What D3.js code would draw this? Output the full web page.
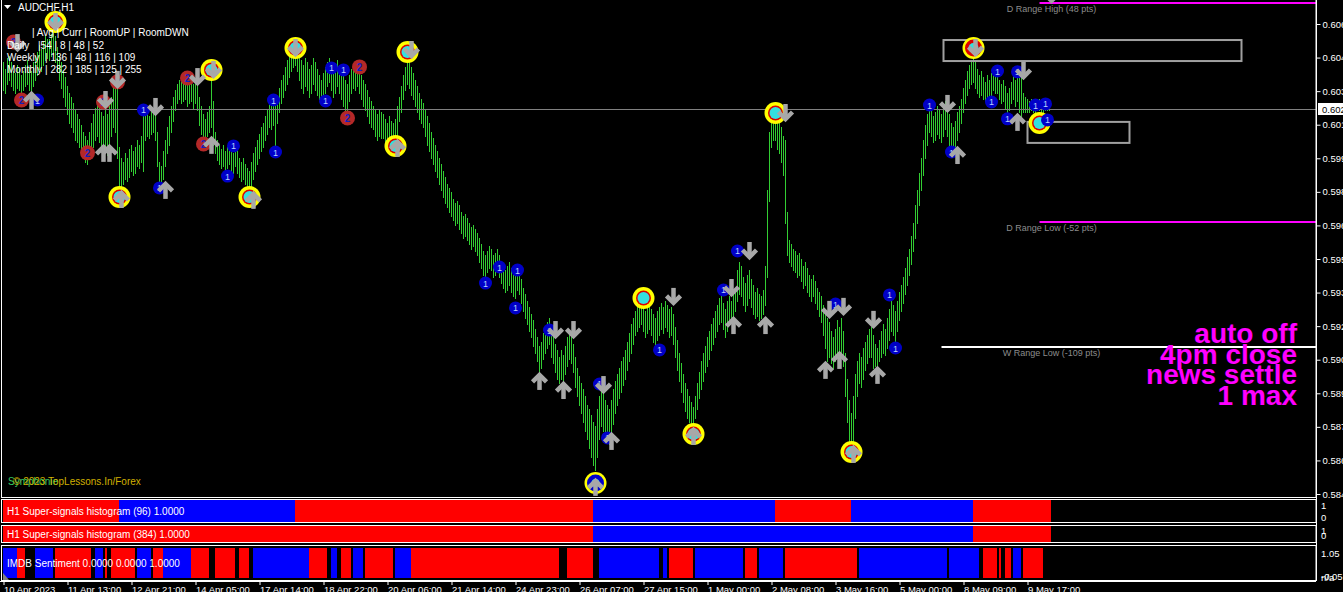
<!DOCTYPE html>
<html>
<head>
<meta charset="utf-8">
<script src="https://cdn.jsdelivr.net/npm/d3@7"></script>
<style>
  body { margin: 0; background: #000; overflow: hidden; }
  svg { display: block; }
  text { font-family: "Liberation Sans", Arial, sans-serif; }
</style>
</head>
<body>
<div id="chart"></div>
<script>
// ---- data ----
const title = "AUDCHF,H1";
const timeLabels = ["10 Apr 2023", "11 Apr 13:00", "12 Apr 21:00", "14 Apr 05:00", "17 Apr 14:00",
  "18 Apr 22:00", "20 Apr 06:00", "21 Apr 14:00", "24 Apr 23:00", "26 Apr 07:00", "27 Apr 15:00",
  "1 May 00:00", "2 May 08:00", "3 May 16:00", "5 May 00:00", "8 May 09:00", "9 May 17:00"];
const barsPerLabel = 32;
const priceTicks = [0.58447, 0.58602, 0.58757, 0.58912, 0.59067, 0.59222, 0.59377, 0.59532,
  0.59687, 0.59842, 0.59997, 0.60152, 0.60307, 0.60462, 0.60617];
const lastPrice = 0.60225;

const highs = [
  0.6044,0.6041,0.6046,0.6047,0.6044,0.6040,0.6039,0.6043,0.6041,0.6038,
  0.6040,0.6043,0.6045,0.6042,0.6040,0.6044,0.6047,0.6049,0.6052,0.6050,
  0.6054,0.6056,0.6055,0.6055,0.6057,0.6058,0.6056,0.6051,0.6047,0.6044,
  0.6040,0.6037,0.6033,0.6030,0.6028,0.6025,0.6022,0.6020,0.6018,0.6015,
  0.6012,0.6010,0.6008,0.6012,0.6016,0.6020,0.6023,0.6025,0.6024,0.6021,
  0.6019,0.6022,0.6020,0.6024,0.6028,0.6032,0.6035,0.6034,0.6005,0.6000,
  0.5998,0.6002,0.6000,0.6004,0.6006,0.6003,0.6005,0.6008,0.6006,0.6010,
  0.6024,0.6022,0.6020,0.6019,0.6021,0.6022,0.6020,0.6012,0.5998,0.5996,
  0.6003,0.6008,0.6014,0.6019,0.6024,0.6028,0.6031,0.6034,0.6036,0.6035,
  0.6037,0.6038,0.6036,0.6035,0.6037,0.6034,0.6036,0.6033,0.6028,0.6024,
  0.6020,0.6018,0.6021,0.6024,0.6037,0.6026,0.6012,0.6008,0.6006,0.6004,
  0.6006,0.6003,0.6005,0.6007,0.6004,0.6002,0.6005,0.6003,0.6000,0.5998,
  0.6000,0.5997,0.5995,0.5994,0.5998,0.6002,0.6005,0.6008,0.6011,0.6014,
  0.6016,0.6019,0.6022,0.6025,0.6024,0.6026,0.6025,0.6028,0.6032,0.6036,
  0.6038,0.6042,0.6045,0.6048,0.6051,0.6053,0.6054,0.6052,0.6048,0.6045,
  0.6043,0.6046,0.6044,0.6041,0.6043,0.6046,0.6044,0.6041,0.6038,0.6036,
  0.6039,0.6042,0.6044,0.6046,0.6043,0.6040,0.6042,0.6045,0.6043,0.6040,
  0.6038,0.6036,0.6034,0.6038,0.6041,0.6043,0.6042,0.6044,0.6041,0.6038,
  0.6036,0.6034,0.6031,0.6028,0.6026,0.6024,0.6022,0.6020,0.6022,0.6021,
  0.6020,0.6018,0.6016,0.6019,0.6017,0.6016,0.6018,0.6024,0.6028,0.6033,
  0.6038,0.6042,0.6046,0.6045,0.6042,0.6039,0.6036,0.6033,0.6030,0.6027,
  0.6025,0.6022,0.6019,0.6016,0.6012,0.6009,0.6006,0.6003,0.6000,0.5997,
  0.5994,0.5991,0.5988,0.5986,0.5984,0.5981,0.5979,0.5980,0.5978,0.5975,
  0.5973,0.5974,0.5972,0.5970,0.5968,0.5969,0.5967,0.5965,0.5963,0.5960,
  0.5957,0.5955,0.5957,0.5959,0.5958,0.5955,0.5956,0.5958,0.5955,0.5952,
  0.5950,0.5948,0.5950,0.5952,0.5949,0.5946,0.5948,0.5950,0.5948,0.5944,
  0.5940,0.5937,0.5934,0.5931,0.5928,0.5925,0.5921,0.5917,0.5913,0.5915,
  0.5919,0.5922,0.5924,0.5926,0.5921,0.5918,0.5914,0.5911,0.5908,0.5911,
  0.5909,0.5913,0.5917,0.5920,0.5918,0.5914,0.5908,0.5903,0.5899,0.5896,
  0.5893,0.5890,0.5886,0.5884,0.5881,0.5878,0.5876,0.5884,0.5890,0.5893,
  0.5891,0.5888,0.5886,0.5884,0.5888,0.5893,0.5897,0.5900,0.5903,0.5906,
  0.5908,0.5911,0.5915,0.5919,0.5923,0.5926,0.5929,0.5931,0.5933,0.5934,
  0.5932,0.5929,0.5931,0.5933,0.5930,0.5928,0.5926,0.5929,0.5931,0.5933,
  0.5931,0.5934,0.5932,0.5930,0.5931,0.5928,0.5922,0.5916,0.5910,0.5905,
  0.5900,0.5896,0.5893,0.5890,0.5887,0.5885,0.5890,0.5896,0.5901,0.5906,
  0.5910,0.5913,0.5917,0.5920,0.5923,0.5926,0.5929,0.5932,0.5935,0.5936,
  0.5933,0.5930,0.5934,0.5936,0.5934,0.5938,0.5940,0.5948,0.5952,0.5950,
  0.5945,0.5942,0.5946,0.5948,0.5944,0.5941,0.5938,0.5940,0.5937,0.5936,
  0.5939,0.5950,0.5985,0.6012,0.6022,0.6020,0.6021,0.6019,0.6017,0.6014,
  0.6010,0.6008,0.5975,0.5962,0.5960,0.5958,0.5957,0.5955,0.5956,0.5953,
  0.5950,0.5952,0.5949,0.5946,0.5944,0.5946,0.5943,0.5940,0.5938,0.5936,
  0.5932,0.5928,0.5926,0.5924,0.5920,0.5917,0.5921,0.5925,0.5922,0.5926,
  0.5920,0.5910,0.5898,0.5888,0.5882,0.5890,0.5900,0.5906,0.5910,0.5908,
  0.5912,0.5915,0.5918,0.5921,0.5922,0.5918,0.5914,0.5912,0.5916,0.5920,
  0.5923,0.5921,0.5926,0.5930,0.5934,0.5932,0.5929,0.5934,0.5938,0.5941,
  0.5945,0.5949,0.5954,0.5958,0.5964,0.5970,0.5978,0.5985,0.5993,0.6000,
  0.6008,0.6015,0.6020,0.6024,0.6022,0.6019,0.6021,0.6024,0.6022,0.6020,
  0.6023,0.6026,0.6024,0.6020,0.6016,0.6014,0.6017,0.6021,0.6024,0.6027,
  0.6032,0.6036,0.6040,0.6043,0.6045,0.6046,0.6044,0.6041,0.6038,0.6040,
  0.6037,0.6035,0.6038,0.6036,0.6039,0.6042,0.6040,0.6038,0.6036,0.6034,
  0.6036,0.6033,0.6030,0.6032,0.6035,0.6038,0.6036,0.6038,0.6040,0.6039,
  0.6030,0.6028,0.6027,0.6026,0.6027,0.6026,0.6025,0.6026,0.6027,0.6026,
  0.6025,0.6026,0.6025,0.6025];

const lows = [
  0.6031,0.6030,0.6034,0.6036,0.6033,0.6031,0.6030,0.6032,0.6031,0.6030,
  0.6031,0.6033,0.6034,0.6031,0.6030,0.6033,0.6036,0.6038,0.6041,0.6040,
  0.6043,0.6045,0.6046,0.6045,0.6047,0.6048,0.6044,0.6040,0.6036,0.6032,
  0.6028,0.6024,0.6020,0.6016,0.6014,0.6012,0.6008,0.6007,0.6005,0.6003,
  0.6000,0.5998,0.5997,0.6000,0.6003,0.6005,0.6008,0.6010,0.6007,0.6004,
  0.6002,0.6004,0.6001,0.6005,0.6010,0.6014,0.6012,0.6000,0.5986,0.5985,
  0.5988,0.5990,0.5989,0.5991,0.5994,0.5992,0.5993,0.5996,0.5995,0.5998,
  0.5994,0.6008,0.6010,0.6009,0.6011,0.6012,0.6008,0.5996,0.5989,0.5988,
  0.5990,0.5996,0.6002,0.6006,0.6012,0.6017,0.6022,0.6025,0.6027,0.6025,
  0.6026,0.6027,0.6024,0.6025,0.6026,0.6023,0.6025,0.6022,0.6015,0.6011,
  0.6010,0.6008,0.6010,0.6012,0.6014,0.6006,0.6002,0.5999,0.5997,0.5995,
  0.5996,0.5994,0.5995,0.5997,0.5994,0.5993,0.5996,0.5993,0.5991,0.5989,
  0.5990,0.5988,0.5986,0.5985,0.5987,0.5990,0.5994,0.5997,0.6000,0.6003,
  0.6005,0.6008,0.6011,0.6014,0.6013,0.6015,0.6006,0.6016,0.6021,0.6025,
  0.6028,0.6031,0.6034,0.6037,0.6040,0.6042,0.6043,0.6040,0.6036,0.6032,
  0.6030,0.6033,0.6031,0.6028,0.6030,0.6034,0.6031,0.6029,0.6027,0.6025,
  0.6027,0.6030,0.6033,0.6035,0.6031,0.6028,0.6030,0.6033,0.6030,0.6027,
  0.6024,0.6020,0.6022,0.6026,0.6030,0.6032,0.6031,0.6033,0.6030,0.6027,
  0.6024,0.6022,0.6019,0.6016,0.6014,0.6013,0.6010,0.6008,0.6010,0.6009,
  0.6009,0.6007,0.6006,0.6008,0.6007,0.6006,0.6007,0.6010,0.6017,0.6021,
  0.6027,0.6031,0.6034,0.6032,0.6029,0.6027,0.6024,0.6021,0.6018,0.6016,
  0.6014,0.6010,0.6006,0.6003,0.6000,0.5997,0.5994,0.5991,0.5988,0.5985,
  0.5982,0.5979,0.5977,0.5975,0.5973,0.5971,0.5969,0.5970,0.5967,0.5965,
  0.5963,0.5964,0.5962,0.5960,0.5958,0.5959,0.5957,0.5955,0.5952,0.5949,
  0.5946,0.5945,0.5947,0.5949,0.5948,0.5945,0.5946,0.5948,0.5945,0.5942,
  0.5940,0.5938,0.5939,0.5941,0.5938,0.5936,0.5935,0.5939,0.5937,0.5933,
  0.5929,0.5926,0.5923,0.5920,0.5917,0.5913,0.5910,0.5906,0.5901,0.5903,
  0.5907,0.5910,0.5912,0.5914,0.5908,0.5905,0.5901,0.5898,0.5896,0.5898,
  0.5896,0.5900,0.5904,0.5907,0.5905,0.5901,0.5894,0.5890,0.5886,0.5882,
  0.5878,0.5874,0.5870,0.5866,0.5862,0.5858,0.5856,0.5862,0.5870,0.5876,
  0.5874,0.5872,0.5870,0.5868,0.5872,0.5877,0.5882,0.5886,0.5889,0.5892,
  0.5895,0.5898,0.5902,0.5906,0.5910,0.5914,0.5918,0.5920,0.5922,0.5923,
  0.5920,0.5917,0.5919,0.5921,0.5918,0.5915,0.5913,0.5916,0.5918,0.5921,
  0.5919,0.5922,0.5920,0.5917,0.5918,0.5914,0.5908,0.5902,0.5897,0.5892,
  0.5887,0.5883,0.5880,0.5878,0.5877,0.5876,0.5880,0.5884,0.5889,0.5893,
  0.5897,0.5901,0.5904,0.5907,0.5911,0.5914,0.5917,0.5920,0.5923,0.5924,
  0.5921,0.5917,0.5920,0.5923,0.5926,0.5927,0.5929,0.5934,0.5937,0.5936,
  0.5932,0.5929,0.5932,0.5935,0.5931,0.5928,0.5926,0.5927,0.5925,0.5926,
  0.5928,0.5932,0.5945,0.5980,0.6005,0.6008,0.6008,0.6004,0.6002,0.5998,
  0.5992,0.5970,0.5955,0.5952,0.5950,0.5948,0.5947,0.5945,0.5946,0.5943,
  0.5940,0.5941,0.5938,0.5936,0.5934,0.5936,0.5933,0.5930,0.5927,0.5924,
  0.5918,0.5912,0.5906,0.5908,0.5905,0.5903,0.5906,0.5909,0.5907,0.5910,
  0.5904,0.5890,0.5878,0.5868,0.5864,0.5866,0.5880,0.5890,0.5896,0.5894,
  0.5898,0.5902,0.5905,0.5908,0.5908,0.5903,0.5904,0.5903,0.5906,0.5908,
  0.5910,0.5909,0.5912,0.5916,0.5920,0.5918,0.5915,0.5920,0.5925,0.5929,
  0.5933,0.5937,0.5941,0.5946,0.5951,0.5957,0.5963,0.5970,0.5978,0.5985,
  0.5992,0.6000,0.6006,0.6012,0.6010,0.6007,0.6008,0.6011,0.6009,0.6007,
  0.6010,0.6013,0.6010,0.6004,0.6002,0.6003,0.6005,0.6008,0.6012,0.6016,
  0.6021,0.6025,0.6029,0.6032,0.6034,0.6035,0.6032,0.6030,0.6028,0.6029,
  0.6027,0.6026,0.6028,0.6027,0.6029,0.6031,0.6030,0.6030,0.6027,0.6025,
  0.6026,0.6023,0.6019,0.6022,0.6025,0.6027,0.6024,0.6026,0.6021,0.6018,
  0.6021,0.6021,0.6021,0.6021,0.6022,0.6021,0.6021,0.6022,0.6022,0.6021,
  0.6021,0.6022,0.6022,0.6022];

// histogram states as [state, number of bars]: 1 = up (blue), -1 = down (red), 0 = none
const hist96Runs = [[-1, 58], [1, 88], [-1, 149], [1, 91], [-1, 38], [1, 61], [-1, 39]];
const hist384Runs = [[-1, 295], [1, 190], [-1, 39]];
const imdbRuns = [[1,7],[-1,4],[0,5],[1,9],[0,1],[-1,18],[0,2],[1,4],[0,1],[-1,1],[0,2],[-1,12],
  [0,1],[1,7],[0,1],[-1,5],[1,14],[-1,9],[0,3],[-1,10],[0,2],[-1,5],[0,2],[1,28],[-1,9],[0,2],
  [1,3],[0,2],[-1,5],[0,1],[1,5],[0,1],[-1,14],[0,1],[1,8],[-1,74],[0,4],[-1,13],[0,3],[1,30],
  [0,2],[1,2],[0,1],[-1,12],[0,1],[1,24],[0,1],[-1,6],[0,1],[1,12],[0,1],[-1,36],[0,1],[1,44],
  [0,1],[1,15],[0,2],[-1,7],[0,1],[-1,1],[0,2],[-1,3],[0,1],[1,4],[0,1],[-1,10]];

const rangeLevels = [
  { name: "D Range High (48 pts)", price: 0.60714, fromBar: 519, kind: "d" },
  { name: "D Range Low (-52 pts)", price: 0.59703, fromBar: 519, kind: "d" },
  { name: "W Range Low (-109 pts)", price: 0.59126, fromBar: 470, kind: "w" }
];
const zones = [
  { fromBar: 470, toBar: 619, top: 0.60543, bottom: 0.60446 },
  { fromBar: 512, toBar: 563, top: 0.60165, bottom: 0.60068 }
];

// markers: [bar index, price]
const signals = [[26,0.60626,0],[58,0.59818,0],[104,0.60405,0],[123,0.59818,0],[146,0.60506,0],
  [196,0.60054,0],[202,0.60488,0],[296,0.58498,1],[320,0.59352,0],[345,0.58724,0],[386,0.60206,0],
  [424,0.58641,0],[485,0.60506,2],[518,0.60160,0]];
const upArrows = [[14,0.60266],[50,0.60022],[53,0.60022],[59,0.59809],[81,0.59851],[104,0.60059],
  [125,0.59805],[197,0.60045],[268,0.58969],[280,0.58927],[296,0.58480],[304,0.58692],[345,0.58715],
  [365,0.59227],[381,0.59227],[411,0.59020],[418,0.59066],[425,0.58632],[437,0.58997],[477,0.60012],
  [507,0.60165]];
const downArrows = [[7,0.60529],[26,0.60626],[51,0.60266],[57,0.60359],[76,0.60234],[97,0.60372],
  [105,0.60405],[146,0.60506],[204,0.60497],[276,0.59204],[285,0.59204],[300,0.58950],[335,0.59357],
  [364,0.59398],[373,0.59569],[391,0.60206],[413,0.59297],[420,0.59311],[435,0.59251],[472,0.60248],
  [486,0.60506],[510,0.60400]];
const blueDots = [[17,0.60266],[70,0.60220],[78,0.59860],[115,0.60054],[112,0.59915],[135,0.60266],
  [136,0.60026],[161,0.60262],[164,0.60414],[170,0.60405],[241,0.59421],[248,0.59495],[257,0.59481],
  [256,0.59306],[273,0.59204],[298,0.58955],[302,0.58706],[328,0.59112],[360,0.59389],[367,0.59569],
  [416,0.59324],[443,0.59366],[446,0.59121],[463,0.60243],[474,0.60026],[494,0.60257],[497,0.60400],
  [502,0.60179],[507,0.60396],[516,0.60243],[521,0.60248],[522,0.60174]];
const redDots = [[5,0.60534],[9,0.60266],[42,0.60022],[50,0.60257],[57,0.60350],[92,0.60368],
  [100,0.60063],[172,0.60183],[178,0.60419]];

const infoHeader = "| Avg | Curr | RoomUP | RoomDWN";
const infoRows = [["Daily", "|54 | 8 | 48 | 52"], ["Weekly", "| 136 | 48 | 116 | 109"],
  ["Monthly", "| 282 | 185 | 125 | 255"]];
const notes = ["auto off", "4pm close", "news settle", "1 max"];
const credits = ["Symphonie", "\u00a9 2023 TopLessons.In/Forex"];
const subTitles = ["H1 Super-signals histogram (96) 1.0000", "H1 Super-signals histogram (384) 1.0000",
  "IMDB Sentiment 0.0000 0.0000 1.0000"];

// ---- layout ----
const W = 1343, H = 592;
const plotRight = 1316;
const mainBottom = 497;
const subs = [
  { top: 499.5, bottom: 522.5, fillTop: 500, fillBottom: 522 },
  { top: 525.5, bottom: 542.5, fillTop: 526, fillBottom: 542 },
  { top: 545.5, bottom: 580.5, fillTop: 548, fillBottom: 578 }
];
const axisY = 581;
const barColor = "#32cd32";
const upColor = "#0000ff", downColor = "#ff0000";
const arrowColor = "#a8a8a8";

const svg = d3.select("#chart").append("svg").attr("width", W).attr("height", H);
svg.append("rect").attr("width", W).attr("height", H).attr("fill", "#000");

const x = d3.scaleLinear().domain([0, 656]).range([3.5, 1315.5]);
const y = d3.scaleLinear().domain([priceTicks[0], priceTicks[priceTicks.length - 1]]).range([494, 24]);

svg.append("clipPath").attr("id", "mainClip")
  .append("rect").attr("x", 2).attr("y", 0).attr("width", plotRight - 2).attr("height", mainBottom);
const main = svg.append("g").attr("clip-path", "url(#mainClip)");

// price bars
main.append("g").selectAll("line").data(highs).join("line")
  .attr("x1", (d, i) => x(i)).attr("x2", (d, i) => x(i))
  .attr("y1", d => Math.round(y(d))).attr("y2", (d, i) => Math.round(y(lows[i])) + 1)
  .attr("stroke", barColor).attr("stroke-width", 1).attr("shape-rendering", "crispEdges");

// current price line
main.append("line").attr("x1", 2).attr("x2", plotRight)
  .attr("y1", Math.round(y(lastPrice)) + 0.5).attr("y2", Math.round(y(lastPrice)) + 0.5)
  .attr("stroke", "#808080");

// zones
main.selectAll("rect.zone").data(zones).join("rect").attr("class", "zone")
  .attr("x", d => x(d.fromBar)).attr("width", d => x(d.toBar) - x(d.fromBar))
  .attr("y", d => y(d.top)).attr("height", d => y(d.bottom) - y(d.top))
  .attr("fill", "none").attr("stroke", "#a0a0a0").attr("stroke-width", 2);

// range lines and labels
rangeLevels.forEach(r => {
  const yy = Math.round(y(r.price));
  main.append("line").attr("x1", x(r.fromBar) - 2).attr("x2", plotRight)
    .attr("y1", yy).attr("y2", yy)
    .attr("stroke", r.kind === "d" ? "#ff00ff" : "#ffffff").attr("stroke-width", 2);
  main.append("text").attr("x", x(highs.length)).attr("y", yy + 9)
    .attr("text-anchor", "middle").attr("fill", "#8c8c8c").style("font-size", "9px").text(r.name);
});
main.append("path").attr("d", `M${x(highs.length) - 4},0L${x(highs.length) + 4},0L${x(highs.length)},4Z`)
  .attr("fill", "#a0a0a0");

// yellow signal circles
const sig = main.append("g").selectAll("g").data(signals).join("g")
  .attr("transform", d => `translate(${x(d[0])},${y(d[1])})`);
sig.append("circle").attr("r", 11).attr("fill", "#ffff00");
sig.append("circle").attr("r", d => d[2] === 0 ? 7.5 : 8.5)
  .attr("fill", d => d[2] === 1 ? "#0000cc" : "#dd0000");
sig.append("circle").attr("r", d => d[2] === 0 ? 6 : (d[2] === 1 ? 4 : 5)).attr("fill", "#33e0e0");

// numbered dots
const bd = main.append("g").selectAll("g").data(blueDots).join("g")
  .attr("transform", d => `translate(${x(d[0])},${y(d[1])})`);
bd.append("circle").attr("r", 6.5).attr("fill", "#0000c8");
bd.append("text").attr("text-anchor", "middle").attr("y", 3.5).attr("fill", "#b8d0ff")
  .style("font-size", "9px").text("1");
const rd = main.append("g").selectAll("g").data(redDots).join("g")
  .attr("transform", d => `translate(${x(d[0])},${y(d[1])})`);
rd.append("circle").attr("r", 7.5).attr("fill", "#b42828");
rd.append("text").attr("text-anchor", "middle").attr("y", 4).attr("fill", "#1020c0")
  .style("font-size", "10px").style("font-weight", "bold").text("2");

// arrows
function drawArrows(list, dir) {
  const g = main.append("g").selectAll("g").data(list).join("g")
    .attr("transform", d => `translate(${x(d[0])},${y(d[1])}) scale(1,${dir})`);
  g.append("path").attr("d", "M0,9L0,-4").attr("stroke", arrowColor).attr("stroke-width", 4.5);
  g.append("path").attr("d", "M-7,1L0,-6L7,1").attr("fill", "none")
    .attr("stroke", arrowColor).attr("stroke-width", 4.5).attr("stroke-linejoin", "miter");
}
drawArrows(upArrows, 1);
drawArrows(downArrows, -1);

// title + info table
main.append("path").attr("d", "M4,5L11,5L7.5,9Z").attr("fill", "#fff");
main.append("text").attr("x", 18).attr("y", 11).attr("fill", "#fff").style("font-size", "10px").text(title);
main.append("text").attr("x", 32).attr("y", 36).attr("fill", "#fff").style("font-size", "10px").text(infoHeader);
infoRows.forEach((r, k) => {
  const yy = 48.5 + k * 12.3;
  main.append("text").attr("x", 7).attr("y", yy).attr("fill", "#fff").style("font-size", "10px").text(r[0]);
  main.append("text").attr("x", k === 0 ? 38 : 45).attr("y", yy).attr("fill", "#fff").style("font-size", "10px").text(r[1]);
});

// big notes
notes.forEach((t, k) => {
  main.append("text").attr("x", 1297).attr("y", 343 + k * 20.7).attr("text-anchor", "end")
    .attr("fill", "#ff00ff").style("font-size", "28px").style("font-weight", "bold").text(t);
});

// credits
main.append("text").attr("x", 8).attr("y", 485).attr("fill", "#33cc66").style("font-size", "10px").text(credits[0]);
main.append("text").attr("x", 13).attr("y", 485).attr("fill", "#d0b000").style("font-size", "10px").text(credits[1]);

// ---- sub windows ----
function expandRuns(runs) {
  const out = [];
  runs.forEach(([v, n]) => { for (let k = 0; k < n; k++) out.push(v); });
  return out;
}
[hist96Runs, hist384Runs, imdbRuns].forEach((runs, s) => {
  const sw = subs[s];
  const states = expandRuns(runs);
  svg.append("g").selectAll("rect").data(states).join("rect")
    .attr("x", (d, i) => x(i) - 1).attr("width", 2)
    .attr("y", sw.fillTop).attr("height", sw.fillBottom - sw.fillTop)
    .attr("fill", d => d > 0 ? upColor : (d < 0 ? downColor : "none"))
    .attr("shape-rendering", "crispEdges");
  svg.append("text").attr("x", 7).attr("y", (sw.top + sw.bottom) / 2 + 4)
    .attr("fill", "#fff").style("font-size", "10px").text(subTitles[s]);
});

// frames
svg.append("rect").attr("x", 1.5).attr("y", -1).attr("width", plotRight - 1.5).attr("height", mainBottom + 1.5)
  .attr("fill", "none").attr("stroke", "#fff");
subs.forEach(sw => {
  svg.append("rect").attr("x", 1.5).attr("y", sw.top).attr("width", plotRight - 1.5).attr("height", sw.bottom - sw.top)
    .attr("fill", "none").attr("stroke", "#fff");
});

// sub window scale labels
const subLabels = [
  [["1", 505], ["0", 517]],
  [["1", 530], ["0", 535]],
  [["1.05", 553], ["-0.05", 576], ["n/a", 577]]
];
subLabels.forEach(list => list.forEach(([t, yy]) => {
  svg.append("text").attr("x", 1321).attr("y", yy + 3.5).attr("fill", "#fff").style("font-size", "9.5px").text(t);
}));

// price axis
const yAxis = d3.axisRight(y).tickValues(priceTicks).tickFormat(d3.format(".5f")).tickSize(4).tickPadding(2);
svg.append("g").attr("transform", `translate(${plotRight + 0.5},0)`).call(yAxis)
  .call(g => g.select(".domain").remove())
  .call(g => g.selectAll("line").attr("stroke", "#fff"))
  .call(g => g.selectAll("text").attr("fill", "#fff").style("font-size", "9.5px"));

// current price tag
svg.append("rect").attr("x", 1318).attr("y", Math.round(y(lastPrice)) - 6).attr("width", 26).attr("height", 12).attr("fill", "#fff");
svg.append("text").attr("x", 1322).attr("y", Math.round(y(lastPrice)) + 3.5).attr("fill", "#000")
  .style("font-size", "9.5px").text(d3.format(".5f")(lastPrice));

svg.append("line").attr("x1", plotRight + 0.5).attr("x2", plotRight + 0.5).attr("y1", 0).attr("y2", axisY)
  .attr("stroke", "#fff");

// time axis
const xAxis = d3.axisBottom(x).tickValues(timeLabels.map((t, k) => k * barsPerLabel))
  .tickFormat((d, k) => timeLabels[k]).tickSize(4).tickPadding(1);
svg.append("g").attr("transform", `translate(0,${axisY})`).call(xAxis)
  .call(g => g.select(".domain").remove())
  .call(g => g.selectAll("line").attr("stroke", "#fff"))
  .call(g => g.selectAll("text").attr("fill", "#fff").attr("text-anchor", "start").style("font-size", "9.5px"));
svg.append("line").attr("x1", 0).attr("x2", plotRight).attr("y1", axisY + 0.5).attr("y2", axisY + 0.5).attr("stroke", "#fff");
svg.append("path").attr("d", "M3,573L3,580L9,580Z").attr("fill", "#808080");
</script>
</body>
</html>
